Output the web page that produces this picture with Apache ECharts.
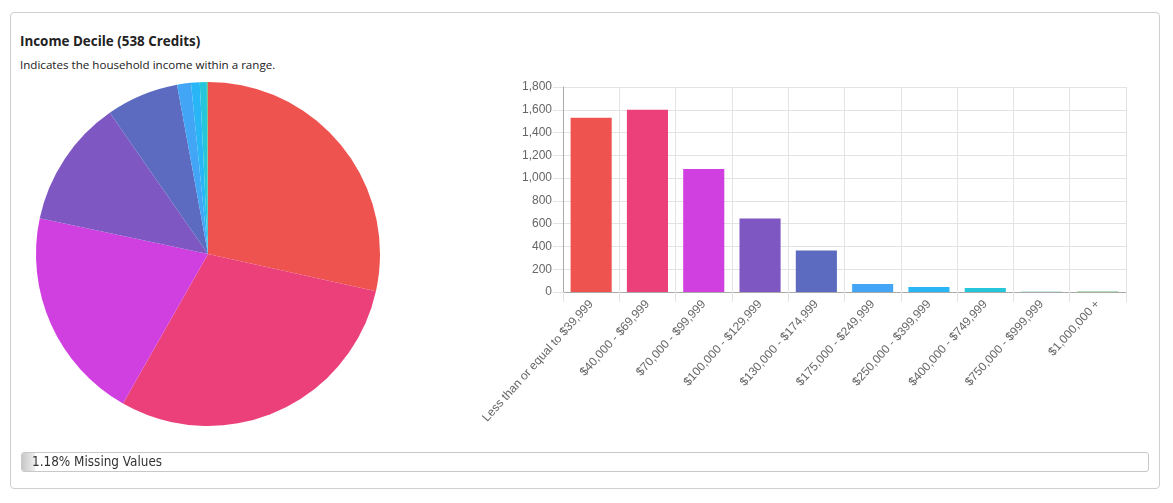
<!DOCTYPE html>
<html><head><meta charset="utf-8">
<script src="https://cdn.jsdelivr.net/npm/echarts@6/dist/echarts.min.js"></script>
<style>
html,body{margin:0;padding:0;width:1173px;height:503px;background:#fff;overflow:hidden;font-family:"Open Sans","Noto Sans",sans-serif;}
#card{position:absolute;left:10px;top:12px;width:1148px;height:475px;border:1px solid #cfcfcf;border-radius:4px;}
#title{position:absolute;left:20px;top:32px;font-size:13.4px;font-weight:bold;color:#222;}
#sub{position:absolute;left:20px;top:57px;font-size:11.6px;color:#222;}
#chart{position:absolute;left:0;top:0;width:1173px;height:503px;}
#miss{position:absolute;left:21px;top:452px;width:1126px;height:18px;border:1px solid #c8c8c8;border-radius:3px;overflow:hidden;}
#missfill{position:absolute;left:0;top:0;height:100%;width:1.18%;background:linear-gradient(to right,#c8c8c8,#eeeeee);}
#misstext{position:absolute;left:10px;top:1px;font-family:"Liberation Sans Narrow","DejaVu Sans Condensed",sans-serif;font-size:13.4px;color:#333;}
</style></head>
<body>
<div id="card"></div>
<div id="title">Income Decile (538 Credits)</div>
<div id="sub">Indicates the household income within a range.</div>
<div id="chart"></div>
<div id="miss"><div id="missfill"></div><div id="misstext">1.18% Missing Values</div></div>
<script>
const categories = ["Less than or equal to $39,999","$40,000 - $69,999","$70,000 - $99,999","$100,000 - $129,999","$130,000 - $174,999","$175,000 - $249,999","$250,000 - $399,999","$400,000 - $749,999","$750,000 - $999,999","$1,000,000 +"];
const counts = [1530, 1600, 1080, 645, 365, 70, 44, 35, 2, 4];
const colors = ["#EF5350","#EC407A","#D03FE0","#7E57C2","#5C6BC0","#42A5F5","#29B6F6","#26C6DA","#26A69A","#66BB6A"];
const yTicks = [0,200,400,600,800,1000,1200,1400,1600,1800];

const chart = echarts.init(document.getElementById('chart'), null, {renderer:'canvas'});
chart.setOption({
  animation:false,
  grid:{left:563, top:87, width:563, height:205, containLabel:false},
  xAxis:{type:'category', data:categories,
    axisLine:{show:true, lineStyle:{color:'#aaa'}},
    axisTick:{show:true, alignWithLabel:false, length:10, lineStyle:{color:'#e3e3e3'}},
    splitLine:{show:true, lineStyle:{color:'#e3e3e3'}},
    axisLabel:{rotate:48, interval:0, color:'#666', fontSize:12, fontFamily:'Liberation Sans, Arial, sans-serif', margin:10}
  },
  yAxis:{type:'value', min:yTicks[0], max:yTicks[yTicks.length-1], interval:200,
    axisLine:{show:true, lineStyle:{color:'#aaa'}},
    axisTick:{show:true, length:10, lineStyle:{color:'#e3e3e3'}},
    splitLine:{show:true, lineStyle:{color:'#e3e3e3'}},
    axisLabel:{color:'#666', fontSize:12, fontFamily:'Liberation Sans, Arial, sans-serif', margin:11,
      formatter:v=>v.toLocaleString('en-US')}
  },
  series:[
    {type:'bar', data:counts.map((v,i)=>({value:v, itemStyle:{color:colors[i]}})), barCategoryGap:'27%'},
    {type:'pie', center:[208,254], radius:172, startAngle:90, clockwise:true,
      label:{show:false}, labelLine:{show:false}, emphasis:{disabled:true},
      itemStyle:{borderWidth:0},
      data:counts.map((v,i)=>({name:categories[i], value:v, itemStyle:{color:colors[i]}}))}
  ]
});
</script>
</body></html>
